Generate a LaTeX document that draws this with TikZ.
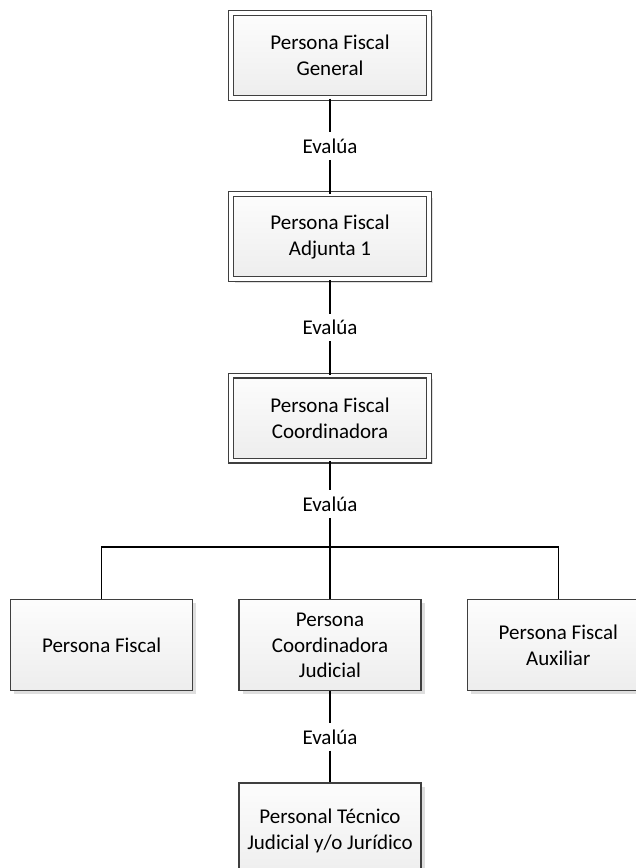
\documentclass[tikz,border=0pt]{standalone}
\usepackage{fontspec}
\setmainfont{Carlito}
\usepackage{tikz}
\usetikzlibrary{calc,positioning,shadows}
\definecolor{boxline}{HTML}{3F3F3F}

\begin{document}
\begin{tikzpicture}[
        x=1pt, y=1pt,
        node distance=95.1pt and 45pt,
        font=\fontsize{21}{25.5}\selectfont,
        boxstyle/.style={draw=boxline, line width=1.3pt, minimum height=91pt, minimum width=182pt,
          inner sep=0pt, align=center, top color=black!1, bottom color=black!7,
          drop shadow={shadow xshift=3.5pt, shadow yshift=-3.5pt, fill=black!13, opacity=1}},
        dboxstyle/.style={boxstyle, double=white, double distance=3.7pt, line width=1.2pt,
          minimum height=85pt, minimum width=198pt},
        labelstyle/.style={inner sep=2pt, minimum height=27pt},
        pathstyle/.style={-, line width=1.5pt}
      ]
        \useasboundingbox (0,0) rectangle (636,868);
        \clip (0,0) rectangle (636,868);

        \node[dboxstyle] (PFG) at (330,812.5)
          {Persona Fiscal\\General};
        \node[dboxstyle, below=of PFG] (PFA)
          {Persona Fiscal\\Adjunta 1};
        \node[dboxstyle, below=of PFA] (PFC)
          {Persona Fiscal\\Coordinadora};
        \node[boxstyle, below=138pt of PFC] (PCJ)
          {Persona\\Coordinadora\\Judicial};
        \node[boxstyle, left=of PCJ] (PF)
          {Persona Fiscal};
        \node[boxstyle, right=of PCJ] (PFX)
          {Persona Fiscal\\Auxiliar};
        \node[boxstyle, minimum height=96pt, below=91pt of PCJ] (PTJ)
          {Personal Técnico\\Judicial y/o Jurídico};

        \coordinate (JOIN) at ($(PCJ.north)+(0,52)$);
        \node[labelstyle] (EV1) at ($(PFG.south)!0.5!(PFA.north)$) {Evalúa};
        \node[labelstyle] (EV2) at ($(PFA.south)!0.5!(PFC.north)$) {Evalúa};
        \node[labelstyle] (EV3) at ($(PFC.south)!0.5!(JOIN)$) {Evalúa};
        \node[labelstyle] (EV4) at ($(PCJ.south)!0.5!(PTJ.north)$) {Evalúa};

        \draw[pathstyle] (PFG.south) -- (EV1) -- (PFA.north);
        \draw[pathstyle] (PFA.south) -- (EV2) -- (PFC.north);
        \draw[pathstyle] (PFC.south) -- (EV3) -- (JOIN);
        \draw[pathstyle] (PF.north) |- (JOIN) -| (PFX.north);
        \draw[pathstyle] (JOIN) -- (PCJ.north);
        \draw[pathstyle] (PCJ.south) -- (EV4) -- (PTJ.north);
      \end{tikzpicture}
\end{document}
